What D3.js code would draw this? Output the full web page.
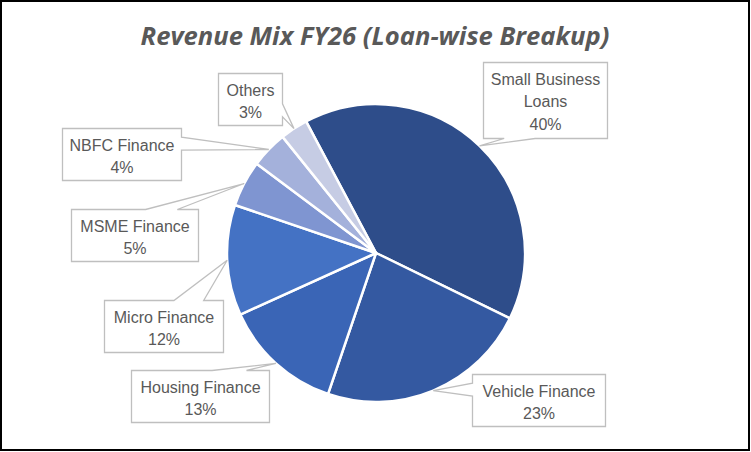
<!DOCTYPE html>
<html>
<head>
<meta charset="utf-8">
<script src="https://cdn.jsdelivr.net/npm/d3@7/dist/d3.min.js"></script>
<style>
  html, body { margin: 0; padding: 0; background: #fff; }
  svg { display: block; }
</style>
</head>
<body>
<svg id="chart" width="751" height="452"></svg>
<script>
// ---- Data ----
const categories = ["Small Business Loans", "Vehicle Finance", "Housing Finance", "Micro Finance", "MSME Finance", "NBFC Finance", "Others"];
const values = [40, 23, 13, 12, 5, 4, 3];
const labelLines = [["Small Business", "Loans"], ["Vehicle Finance"], ["Housing Finance"], ["Micro Finance"], ["MSME Finance"], ["NBFC Finance"], ["Others"]];
const title = "Revenue Mix FY26 (Loan-wise Breakup)";

// ---- Styles / layout ----
const colors = ["#2E4D8A", "#3459A1", "#3A65B6", "#4472C4", "#7F95D1", "#A4B1DB", "#C6CCE4"];
// callout boxes: [x, y, w, h]
const labelBoxes = [
  [483.5, 62.5, 124, 76],
  [472.5, 374.5, 133, 52],
  [131.5, 370.5, 138, 52],
  [104.5, 300.5, 119, 52],
  [71.5, 209.5, 127, 52],
  [62.5, 128.5, 119, 52],
  [218.5, 73.5, 64, 52]
];

const svg = d3.select("#chart");
const cx = 376, cy = 253, R = 149;

// border
svg.append("rect").attr("x", 1).attr("y", 1).attr("width", 748).attr("height", 449)
  .attr("fill", "#fff").attr("stroke", "#000").attr("stroke-width", 2);

// title
svg.append("text").attr("x", 375).attr("y", 45).attr("text-anchor", "middle")
  .attr("font-family", "'Open Sans', sans-serif").attr("font-weight", "bold").attr("font-style", "italic")
  .attr("font-size", 25.6).attr("fill", "#595959").text(title);

const data = categories.map((c, i) => ({ cat: c, value: values[i], i }));
const start = -28 * Math.PI / 180;
const pie = d3.pie().value(d => d.value).sort(null).startAngle(start).endAngle(start + 2 * Math.PI);
const arcs = pie(data);
const arc = d3.arc().innerRadius(0).outerRadius(R);

const g = svg.append("g").attr("transform", `translate(${cx},${cy})`);
g.selectAll("path").data(arcs).enter().append("path")
  .attr("d", arc).attr("fill", d => colors[d.data.i])
  .attr("stroke", "#fff").attr("stroke-width", 2.5).attr("stroke-linejoin", "round");

// callouts
function calloutPath(b, tx, ty) {
  const [x, y, w, h] = b;
  const bx = x + w / 2, by = y + h / 2;
  const dx = tx - bx, dy = ty - by;
  const dxn = dx * h / w;
  let side, b1, b2;
  if (Math.abs(dxn) > Math.abs(dy)) {
    side = dx < 0 ? "left" : "right";
    if (dy < 0) { b1 = y + h * 2 / 12; b2 = y + h * 5 / 12; } else { b1 = y + h * 7 / 12; b2 = y + h * 10 / 12; }
  } else {
    side = dy < 0 ? "top" : "bottom";
    if (dx < 0) { b1 = x + w * 2 / 12; b2 = x + w * 5 / 12; } else { b1 = x + w * 7 / 12; b2 = x + w * 10 / 12; }
  }
  const p = d3.path();
  p.moveTo(x, y);
  if (side === "top") { p.lineTo(b1, y); p.lineTo(tx, ty); p.lineTo(b2, y); }
  p.lineTo(x + w, y);
  if (side === "right") { p.lineTo(x + w, b1); p.lineTo(tx, ty); p.lineTo(x + w, b2); }
  p.lineTo(x + w, y + h);
  if (side === "bottom") { p.lineTo(b2, y + h); p.lineTo(tx, ty); p.lineTo(b1, y + h); }
  p.lineTo(x, y + h);
  if (side === "left") { p.lineTo(x, b2); p.lineTo(tx, ty); p.lineTo(x, b1); }
  p.closePath();
  return p.toString();
}

const total = d3.sum(values);
arcs.forEach(a => {
  const i = a.data.i;
  const mid = (a.startAngle + a.endAngle) / 2;
  const tx = cx + R * Math.sin(mid), ty = cy - R * Math.cos(mid);
  const b = labelBoxes[i];
  svg.append("path").attr("d", calloutPath(b, tx, ty))
    .attr("fill", "#fff").attr("stroke", "#BFBFBF").attr("stroke-width", 1.3).attr("stroke-linejoin", "miter");
  const lines = labelLines[i].concat([Math.round(a.data.value / total * 100) + "%"]);
  const t = svg.append("text").attr("text-anchor", "middle")
    .attr("font-family", "'Liberation Sans', Arial, sans-serif").attr("font-size", 16).attr("fill", "#595959");
  lines.forEach((ln, k) => {
    t.append("tspan").attr("x", b[0] + b[2] / 2).attr("y", b[1] + 22 + k * 22.5).text(ln);
  });
});
</script>
</body>
</html>
